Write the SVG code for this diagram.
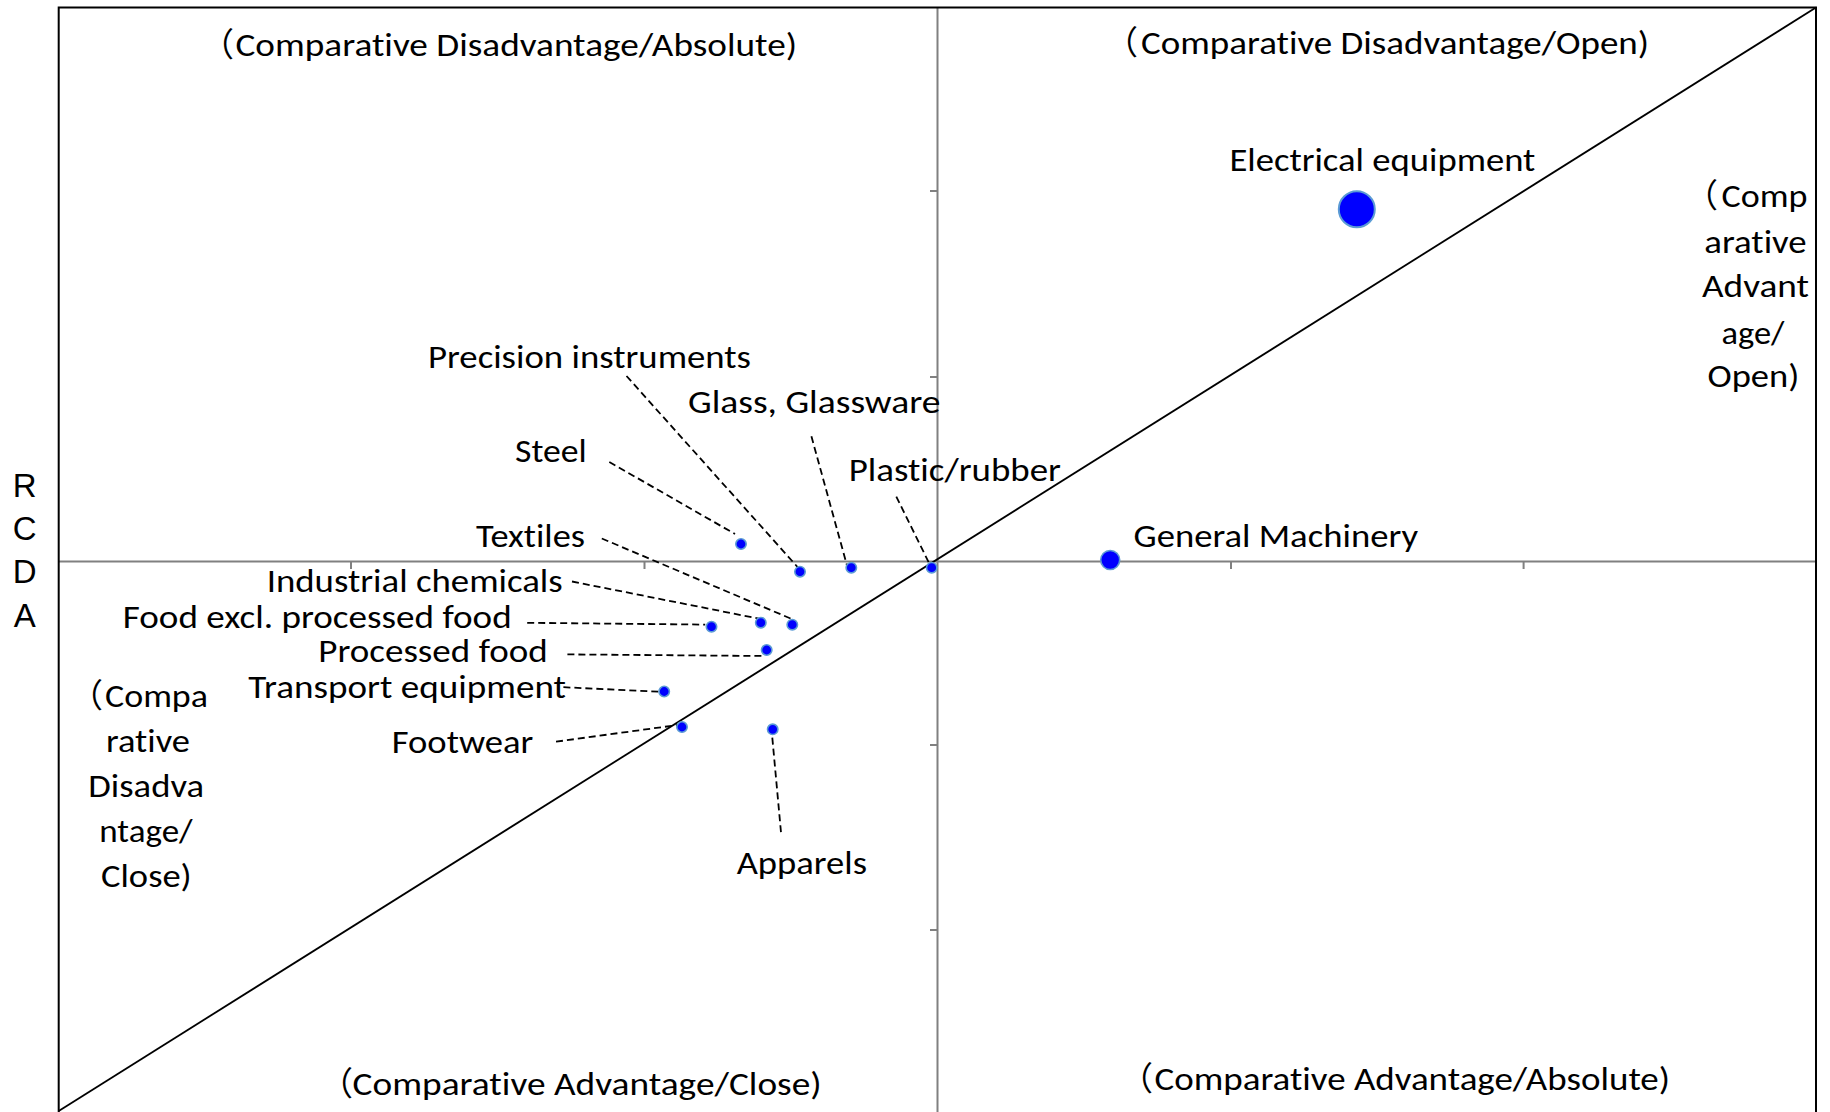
<svg xmlns="http://www.w3.org/2000/svg" width="1830" height="1112" viewBox="0 0 1830 1112">
<style>
text { font-family: Carlito, Calibri, Lato, "Noto Sans CJK JP", sans-serif; font-size: 33px; fill: #000; font-variant-ligatures: none; }
.fw { font-family: "Noto Sans CJK JP", sans-serif; }
.rcda { font-family: "Liberation Sans", Arial, sans-serif; font-size: 33px; text-anchor: middle; }
.dot { fill: #0000ff; stroke: #5b9bd5; stroke-width: 1.6; }
.lead { fill: none; stroke: #000; stroke-width: 1.8; stroke-dasharray: 7 4; }
.axis { fill: none; stroke: #808080; stroke-width: 2; }
.frame { fill: none; stroke: #000; stroke-width: 2; }
.diag { fill: none; stroke: #000; stroke-width: 1.8; }
</style>
<rect width="1830" height="1112" fill="#fff"/>

<g id="axes">
  <path class="axis" d="M937.5 7 V1112 M58 561.5 H1816"/>
  <path class="axis" d="M351 562 v7 M644.5 562 v7 M1231 562 v7 M1523.6 562 v7 M930 191 h7 M930 377 h7 M930 745 h7 M930 930 h7"/>
  <path class="frame" d="M58.7 1112 V7.5 H1816 V1112"/>
  <path class="diag" d="M58.7 1111 L1816 7.5"/>
</g>

<g id="ylabel">
  <text class="rcda" x="24.7" y="497.3">R</text>
  <text class="rcda" x="24.7" y="540">C</text>
  <text class="rcda" x="24.7" y="583.3">D</text>
  <text class="rcda" x="24.7" y="626.7">A</text>
</g>

<g id="quadrants">
  <text y="56.3"><tspan class="fw" x="201">（</tspan><tspan x="235.5" textLength="561.5" lengthAdjust="spacingAndGlyphs">Comparative Disadvantage/Absolute)</tspan></text>
  <text y="53.5"><tspan class="fw" x="1105">（</tspan><tspan x="1141" textLength="508" lengthAdjust="spacingAndGlyphs">Comparative Disadvantage/Open)</tspan></text>
  <text y="1095"><tspan class="fw" x="320">（</tspan><tspan x="352.6" textLength="469" lengthAdjust="spacingAndGlyphs">Comparative Advantage/Close)</tspan></text>
  <text y="1090"><tspan class="fw" x="1120">（</tspan><tspan x="1154.5" textLength="515.5" lengthAdjust="spacingAndGlyphs">Comparative Advantage/Absolute)</tspan></text>
  <g id="q-left">
    <text y="706.7"><tspan class="fw" x="70">（</tspan><tspan x="105" textLength="103" lengthAdjust="spacingAndGlyphs">Compa</tspan></text>
    <text x="106" y="751.7" textLength="84" lengthAdjust="spacingAndGlyphs">rative</text>
    <text x="88.3" y="796.7" textLength="115.7" lengthAdjust="spacingAndGlyphs">Disadva</text>
    <text x="99.3" y="841.7" textLength="93.3" lengthAdjust="spacingAndGlyphs">ntage/</text>
    <text x="101" y="886.7" textLength="90.7" lengthAdjust="spacingAndGlyphs">Close)</text>
  </g>
  <g id="q-right">
    <text y="207"><tspan class="fw" x="1685">（</tspan><tspan x="1721.5" textLength="86" lengthAdjust="spacingAndGlyphs">Comp</tspan></text>
    <text x="1704.3" y="252.8" textLength="102.4" lengthAdjust="spacingAndGlyphs">arative</text>
    <text x="1702" y="297" textLength="107" lengthAdjust="spacingAndGlyphs">Advant</text>
    <text x="1721.5" y="343.6" textLength="62.9" lengthAdjust="spacingAndGlyphs">age/</text>
    <text x="1707.5" y="387.3" textLength="91.8" lengthAdjust="spacingAndGlyphs">Open)</text>
  </g>
</g>

<g id="connectors">
  <path class="lead" d="M609.3 462 L735 534"/>
  <path class="lead" d="M626.5 376 L798.7 568.3"/>
  <path class="lead" d="M811.4 436.3 L847 565.5"/>
  <path class="lead" d="M896.3 496.6 L931 567"/>
  <path class="lead" d="M601.8 538.5 L791.3 618.8"/>
  <path class="lead" d="M572 581.5 L759.7 618.8"/>
  <path class="lead" d="M527.2 622.8 L705.2 624.6"/>
  <path class="lead" d="M567.4 654.4 L765.4 656"/>
  <path class="lead" d="M563.4 687.2 L659.2 691.7"/>
  <path class="lead" d="M556 741.7 L677.6 725"/>
  <path class="lead" d="M772.3 737.6 L781 832.4"/>
</g>

<g id="steel"><circle class="dot" cx="741" cy="544" r="5.2"/><text x="515" y="461.7" textLength="71.7" lengthAdjust="spacingAndGlyphs">Steel</text></g>
<g id="precision-instruments"><circle class="dot" cx="800" cy="571.7" r="5.2"/><text x="428" y="367.5" textLength="323" lengthAdjust="spacingAndGlyphs">Precision instruments</text></g>
<g id="glass"><circle class="dot" cx="851.3" cy="567.7" r="5.2"/><text x="688" y="413.3" textLength="252.5" lengthAdjust="spacingAndGlyphs">Glass, Glassware</text></g>
<g id="plastic-rubber"><circle class="dot" cx="931.7" cy="567.7" r="5.2"/><text x="848.7" y="481" textLength="212.3" lengthAdjust="spacingAndGlyphs">Plastic/rubber</text></g>
<g id="textiles"><circle class="dot" cx="792.3" cy="624.7" r="5.2"/><text x="476" y="546.7" textLength="109" lengthAdjust="spacingAndGlyphs">Textiles</text></g>
<g id="industrial-chemicals"><circle class="dot" cx="760.8" cy="622.7" r="5.2"/><text x="266.7" y="591.7" textLength="296" lengthAdjust="spacingAndGlyphs">Industrial chemicals</text></g>
<g id="food-excl"><circle class="dot" cx="711.5" cy="626.7" r="5.2"/><text x="122.7" y="628.3" textLength="389" lengthAdjust="spacingAndGlyphs">Food excl.  processed food</text></g>
<g id="processed-food"><circle class="dot" cx="766.7" cy="650" r="5.2"/><text x="318.3" y="661.7" textLength="229.4" lengthAdjust="spacingAndGlyphs">Processed food</text></g>
<g id="transport-equipment"><circle class="dot" cx="664.2" cy="691.5" r="5.2"/><text x="248.3" y="698.3" textLength="317.7" lengthAdjust="spacingAndGlyphs">Transport equipment</text></g>
<g id="footwear"><circle class="dot" cx="682" cy="727" r="5.2"/><text x="391.7" y="753.3" textLength="141.6" lengthAdjust="spacingAndGlyphs">Footwear</text></g>
<g id="apparels"><circle class="dot" cx="772.7" cy="729.3" r="5.2"/><text x="736.7" y="873.7" textLength="130.3" lengthAdjust="spacingAndGlyphs">Apparels</text></g>
<g id="general-machinery"><circle class="dot" cx="1110.2" cy="560" r="9.5"/><text x="1133.5" y="547" textLength="284.5" lengthAdjust="spacingAndGlyphs">General Machinery</text></g>
<g id="electrical-equipment"><circle class="dot" cx="1356.8" cy="209.2" r="18" style="stroke-width:2"/><text x="1229.4" y="171.3" textLength="306" lengthAdjust="spacingAndGlyphs">Electrical equipment</text></g>
</svg>
